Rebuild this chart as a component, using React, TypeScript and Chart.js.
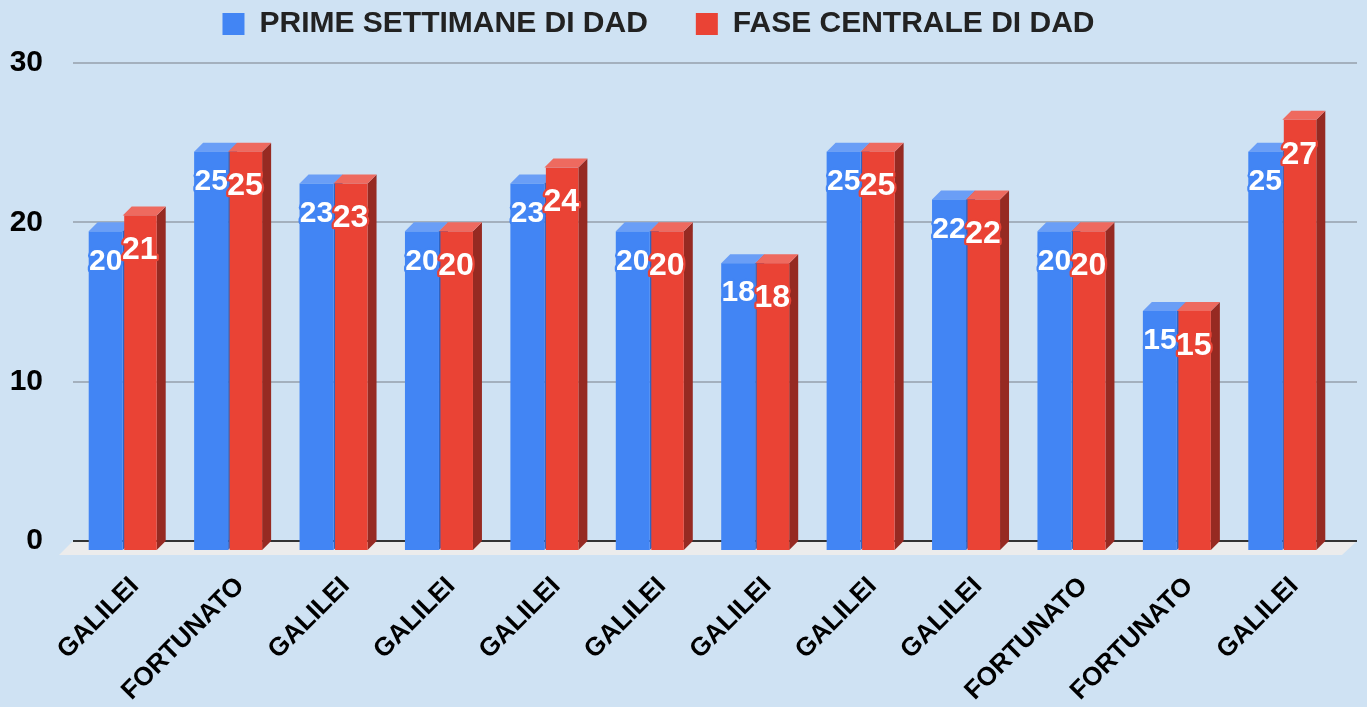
import { useEffect, useRef } from "react";
import { Chart, registerables } from "chart.js";

Chart.register(...registerables);

const categories = [
  "GALILEI", "FORTUNATO", "GALILEI", "GALILEI", "GALILEI", "GALILEI",
  "GALILEI", "GALILEI", "GALILEI", "FORTUNATO", "FORTUNATO", "GALILEI",
];
const seriesNames = ["PRIME SETTIMANE DI DAD", "FASE CENTRALE DI DAD"];
const primeSettimane = [20, 25, 23, 20, 23, 20, 18, 25, 22, 20, 15, 25];
const faseCentrale = [21, 25, 23, 20, 24, 20, 18, 25, 22, 20, 15, 27];
const yTickValues = [0, 10, 20, 30];

const FRONT = ["#4285f4", "#ea4335"];
const TOP = ["#6a9ef6", "#ee6a5f"];
const SIDE = ["#2f64c2", "#962a22"];
const LABEL_FONT = [30, 32];
const LABEL_DY = [30, 35];
const DEPTH = 9;
const FONT = "'Liberation Sans', Arial, Helvetica, sans-serif";

const threeD = {
  id: "threeD",
  beforeDraw(chart: any) {
    const { ctx, width, height } = chart;
    ctx.save();
    ctx.fillStyle = "#cfe2f3";
    ctx.fillRect(0, 0, width, height);
    ctx.restore();
  },
  beforeDatasetsDraw(chart: any) {
    const { ctx, chartArea: a } = chart;
    const y = chart.scales.y;
    const y0 = y.getPixelForValue(0);
    ctx.save();
    // floor
    ctx.fillStyle = "#ececec";
    ctx.beginPath();
    ctx.moveTo(a.left + 3, y0 - DEPTH);
    ctx.lineTo(a.right + 22, y0 - DEPTH);
    ctx.lineTo(a.right + 7, y0 + 5);
    ctx.lineTo(a.left - 11, y0 + 5);
    ctx.closePath();
    ctx.fill();
    // gridlines (back plane)
    yTickValues.forEach((v) => {
      const py = Math.round(y.getPixelForValue(v) - DEPTH);
      ctx.beginPath();
      ctx.strokeStyle = v === 0 ? "#333333" : "#a4b0bd";
      ctx.lineWidth = 2;
      ctx.moveTo(a.left + 3, py);
      ctx.lineTo(a.right + 22, py);
      ctx.stroke();
    });
    // bars
    chart.data.datasets.forEach((_ds: any, di: number) => {
      const meta = chart.getDatasetMeta(di);
      meta.data.forEach((bar: any) => {
        const { x, y: top, base, width } = bar.getProps(["x", "y", "base", "width"], true);
        const l = x - width / 2;
        const r = x + width / 2;
        ctx.fillStyle = SIDE[di];
        ctx.beginPath();
        ctx.moveTo(r, top);
        ctx.lineTo(r + DEPTH, top - DEPTH);
        ctx.lineTo(r + DEPTH, base - DEPTH);
        ctx.lineTo(r, base);
        ctx.closePath();
        ctx.fill();
        ctx.fillStyle = TOP[di];
        ctx.beginPath();
        ctx.moveTo(l, top);
        ctx.lineTo(l + DEPTH, top - DEPTH);
        ctx.lineTo(r + DEPTH, top - DEPTH);
        ctx.lineTo(r, top);
        ctx.closePath();
        ctx.fill();
        const inset = di > 0 ? 1.5 : 0;
        ctx.fillStyle = FRONT[di];
        ctx.fillRect(l + inset, top, width - inset, base - top);
      });
    });
    // data labels
    chart.data.datasets.forEach((ds: any, di: number) => {
      const meta = chart.getDatasetMeta(di);
      ctx.font = `bold ${LABEL_FONT[di]}px ${FONT}`;
      ctx.textAlign = "center";
      ctx.textBaseline = "middle";
      ctx.lineJoin = "round";
      meta.data.forEach((bar: any, i: number) => {
        const { x, y: top } = bar.getProps(["x", "y"], true);
        const txt = String(ds.data[i]);
        const ty = top + LABEL_DY[di];
        ctx.strokeStyle = FRONT[di];
        ctx.lineWidth = 4.5;
        ctx.strokeText(txt, x, ty);
        ctx.fillStyle = "#ffffff";
        ctx.fillText(txt, x, ty);
      });
    });
    ctx.restore();
    return false;
  },
  beforeLayout(chart: any) {
    const lg = chart.legend;
    if (lg && !lg.__patched) {
      const orig = lg.fit.bind(lg);
      lg.fit = function () {
        orig();
        this.height = 111;
      };
      lg.__patched = true;
    }
  },
};

export default function App() {
  const ref = useRef<HTMLCanvasElement | null>(null);
  useEffect(() => {
    document.body.style.margin = "0";
    document.body.style.background = "#cfe2f3";
    const canvas = ref.current!;
    const chart = new Chart(canvas, {
      type: "bar",
      data: {
        labels: categories,
        datasets: [
          { label: seriesNames[0], data: primeSettimane, backgroundColor: FRONT[0] },
          { label: seriesNames[1], data: faseCentrale, backgroundColor: FRONT[1] },
        ],
      },
      options: {
        responsive: false,
        animation: false,
        layout: { padding: { top: -39, right: 32, left: -18, bottom: 0 } },
        datasets: { bar: { categoryPercentage: 0.645, barPercentage: 1 } },
        plugins: {
          legend: {
            position: "top",
            labels: {
              boxWidth: 22,
              boxHeight: 22,
              padding: 48,
              color: "#222222",
              font: { family: FONT, size: 30, weight: "bold" },
            },
          },
          tooltip: { enabled: false },
        },
        scales: {
          x: {
            grid: { display: false, drawTicks: false },
            border: { display: false },
            ticks: {
              autoSkip: false,
              minRotation: 45,
              maxRotation: 45,
              padding: 21,
              labelOffset: 12,
              color: "#000000",
              font: { family: FONT, size: 26, weight: "bold" },
            },
            afterFit: (s: any) => {
              s.height = 157;
            },
          },
          y: {
            min: 0,
            max: 30,
            grid: { display: false, drawTicks: false },
            border: { display: false },
            ticks: {
              stepSize: 10,
              padding: 27,
              labelOffset: -9,
              color: "#000000",
              font: { family: FONT, size: 30, weight: "bold" },
            },
            afterFit: (s: any) => {
              s.width = 88;
            },
          },
        },
      },
      plugins: [threeD],
    });
    return () => chart.destroy();
  }, []);
  return (
    <div style={{ width: 1367, height: 707 }}>
      <canvas ref={ref} width={1367} height={707} />
    </div>
  );
}
